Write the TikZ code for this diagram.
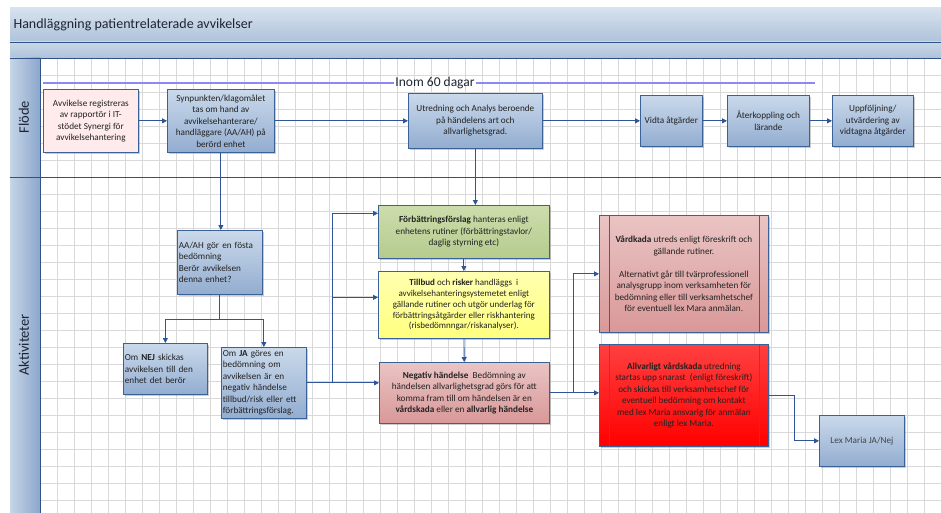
\documentclass[tikz,border=0pt]{standalone}
\usepackage{fontspec}
\setmainfont{Carlito}
\usepackage{tikz}
\usetikzlibrary{arrows.meta, positioning, shadows}

\definecolor{bandtop}{HTML}{D7E2EE}
\definecolor{bandbot}{HTML}{AEC2DA}
\definecolor{lanelight}{HTML}{C6D5E7}
\definecolor{lanedark}{HTML}{8CA7CC}
\definecolor{laneline}{HTML}{2F5288}
\definecolor{gridcol}{HTML}{D9D9D9}
\definecolor{boxline}{HTML}{3B6296}
\definecolor{bluetop}{HTML}{CAD9EB}
\definecolor{bluebot}{HTML}{93ADD0}
\definecolor{linkcol}{HTML}{2F5597}
\definecolor{deadcol}{HTML}{8A8AF2}
\definecolor{titlecol}{HTML}{1E2433}
\definecolor{boxtext}{HTML}{222222}

\begin{document}
\begin{tikzpicture}[
  x=1pt, y=-1pt,
  >={Triangle[length=5pt,width=5pt]},
  font=\fontsize{9.2}{11.5}\selectfont,
  box/.style={draw=boxline, line width=0.7pt, align=center, inner sep=1.5pt,
    anchor=north west, text=boxtext,
    drop shadow={shadow xshift=1.6pt, shadow yshift=-1.6pt, opacity=0.4}},
  bluebox/.style={box, top color=bluetop, bottom color=bluebot},
  leftbox/.style={bluebox, align=left},
  pinkbox/.style={box, fill=red!8!white},
  greenbox/.style={box, top color={rgb,255:red,204;green,221;blue,171}, bottom color={rgb,255:red,181;green,203;blue,143}},
  yellowbox/.style={box, top color={rgb,255:red,255;green,255;blue,175}, bottom color={rgb,255:red,255;green,255;blue,128}},
  rosebox/.style={box, top color={rgb,255:red,234;green,196;blue,196}, bottom color={rgb,255:red,217;green,152;blue,152}},
  redbox/.style={box, top color={rgb,255:red,255;green,64;blue,64}, bottom color={rgb,255:red,255;green,0;blue,0}},
  arrow/.style={->, draw=linkcol, line width=0.8pt},
  gridline/.style={draw=gridcol, line width=0.7pt},
  lanetitle/.style={rotate=90, font=\fontsize{14.5}{14.5}\selectfont, text=titlecol},
  deadline/.style={draw=deadcol, line width=2pt}
]
\useasboundingbox (0,0) rectangle (941,513);
\fill[white] (0,0) rectangle (941,513);

% Grid
\foreach \gx in {57,74,...,941} \draw[gridline] (\gx,58) -- (\gx,513);
\foreach \gy in {75,92,...,170} \draw[gridline] (40,\gy) -- (941,\gy);
\foreach \gy in {194,211,...,513} \draw[gridline] (40,\gy) -- (941,\gy);

% Header and lanes
\shade[top color=bandtop, bottom color=bandbot] (10,8) rectangle (941,42);
\shade[top color=bandtop!70!bandbot, bottom color=bandbot] (10,42) rectangle (941,58);
\shade[left color=lanelight, right color=lanedark] (10,58) rectangle (40,513);
\draw[laneline, line width=0.8pt] (10,42) -- (941,42);
\draw[laneline, line width=0.8pt] (10,58) -- (941,58);
\draw[laneline, line width=0.8pt] (10,177) -- (941,177);
\draw[laneline, line width=0.8pt] (40,58) -- (40,513);

\node[anchor=west, font=\fontsize{14}{14}\selectfont, text=titlecol] (title) at (10,25) {Handläggning patientrelaterade avvikelser};
\node[lanetitle] (flode) at (24,117) {Flöde};
\node[lanetitle] (akt) at (24,345) {Aktiviteter};

% Time limit
\coordinate (dl) at (43,83);
\coordinate (dr) at (815,83);
\node[inner sep=1pt, font=\fontsize{13.5}{13.5}\selectfont, text=titlecol] (inom) at (435,83) {Inom 60 dagar};
\draw[deadline] (dl) -- (inom.west);
\draw[deadline] (inom.east) -- (dr);

% Flow lane
\node[pinkbox, minimum width=95pt, minimum height=63pt] (avv) at (43,89)
  {Avvikelse registreras\\av rapportör i IT-\\stödet Synergi för\\avvikelsehantering};
\node[bluebox, minimum width=107pt, minimum height=63pt] (syn) at (167,89)
  {Synpunkten/klagomålet\\tas om hand av\\avvikelsehanterare/\\handläggare (AA/AH) på\\berörd enhet};
\node[bluebox, minimum width=134pt, minimum height=55pt] (utr) at (408,93)
  {Utredning och Analys beroende\\på händelens art och\\allvarlighetsgrad.};
\node[bluebox, minimum width=62pt, minimum height=51pt] (vidta) at (640,95)
  {Vidta åtgärder};
\node[bluebox, minimum width=82pt, minimum height=51pt] (ater) at (727,95)
  {Återkoppling och\\lärande};
\node[bluebox, minimum width=81pt, minimum height=51pt] (uppf) at (832,95)
  {Uppföljning/\\utvärdering av\\vidtagna åtgärder};

% Activity lane
\node[leftbox, text width=82pt, minimum height=64pt] (aah) at (177,230)
  {AA/AH gör en fösta\\bedömning\\Berör avvikelsen\\denna enhet?\\[6pt]};
\node[leftbox, text width=81pt, minimum height=51pt] (nej) at (123,343)
  {Om \textbf{NEJ} skickas\\avvikelsen till den\\enhet det berör\\[4pt]};
\node[leftbox, text width=82pt, minimum height=71pt] (ja) at (221,347)
  {Om \textbf{JA} göres en\\bedömning om\\avvikelsen är en\\negativ händelse\\tillbud/risk eller ett\\förbättringsförslag.};
\node[greenbox, minimum width=171pt, minimum height=53pt] (forb) at (378,205)
  {\textbf{Förbättringsförslag} hanteras enligt\\enhetens rutiner (förbättringstavlor/\\daglig styrning etc)};
\node[yellowbox, minimum width=171pt, minimum height=67pt, font=\fontsize{9}{10.8}\selectfont] (till) at (378,271)
  {\textbf{Tillbud} och \textbf{risker} handläggs~ i\\avvikelsehanteringsystemetet enligt\\gällande rutiner och utgör underlag för\\förbättringsåtgärder eller riskhantering\\(risbedömnngar/riskanalyser).};
\node[rosebox, minimum width=170pt, minimum height=61pt] (neg) at (379,362)
  {\textbf{Negativ händelse}~ Bedömning av\\händelsen allvarlighetsgrad görs för att\\komma fram till om händelsen är en\\\textbf{vårdskada} eller en \textbf{allvarlig händelse}};
\node[rosebox, minimum width=169pt, minimum height=117pt] (vard) at (599,215)
  {\textbf{Vårdkada} utreds enligt föreskrift och\\gällande rutiner.\\[11.2pt]Alternativt går till tvärprofessionell\\analysgrupp inom verksamheten för\\bedömning eller till verksamhetschef\\för eventuell lex Mara anmälan.};
\node[redbox, minimum width=169pt, minimum height=102pt] (allv) at (599,344)
  {\textbf{Allvarligt vårdskada} utredning\\startas upp snarast~ (enligt föreskrift)\\och skickas till verksamhetschef för\\eventuell bedömning om kontakt\\med lex Maria ansvarig för anmälan\\enligt lex Maria.};
\node[bluebox, minimum width=85pt, minimum height=51pt, text=boxtext!85] (lex) at (819,415)
  {Lex Maria JA/Nej};

% Side bars in the process boxes
\foreach \b in {vard, allv} {
  \draw[boxline, line width=0.7pt] ([xshift=10pt]\b.north west) -- ([xshift=10pt]\b.south west);
  \draw[boxline, line width=0.7pt] ([xshift=-9pt]\b.north east) -- ([xshift=-9pt]\b.south east);
}

% Junctions
\coordinate (jx) at (332,0);
\coordinate (nx) at (573,0);
\coordinate (lx) at (794,0);
\coordinate (ay) at (0,319);
\coordinate (jb) at (ja.east -| jx);
\coordinate (nb) at (neg.east -| nx);
\coordinate (lb) at (allv.east -| lx);
\coordinate (ab) at (aah.south |- ay);

% Arrows
\draw[arrow] (avv) -- (syn);
\draw[arrow] (syn) -- (utr);
\draw[arrow] (utr.east) -- (vidta.west);
\draw[arrow] (vidta) -- (ater);
\draw[arrow] (ater) -- (uppf);
\draw[arrow] (syn.south) -- (syn.south |- aah.north);
\draw[arrow] (aah.south) -- (ab) -| (nej.north);
\draw[arrow] (ab) -| (ja.north);
\draw[arrow] (ja.east) -- (jb) -- (jb -| neg.west);
\draw[arrow] (jb) |- ([yshift=7.5pt]till.west);
\draw[arrow] (jb) |- ([yshift=18.5pt]forb.west);
\draw[arrow] (utr.south) -- (utr.south |- forb.north);
\draw[arrow] (forb) -- (till);
\draw[arrow] (till) -- (neg);
\draw[arrow] (neg.east) -- (nb) -- (nb -| allv.west);
\draw[arrow] (nb) |- (vard.west);
\draw[arrow] (allv.east) -- (lb) |- (lex.west);

\end{tikzpicture}
\end{document}
